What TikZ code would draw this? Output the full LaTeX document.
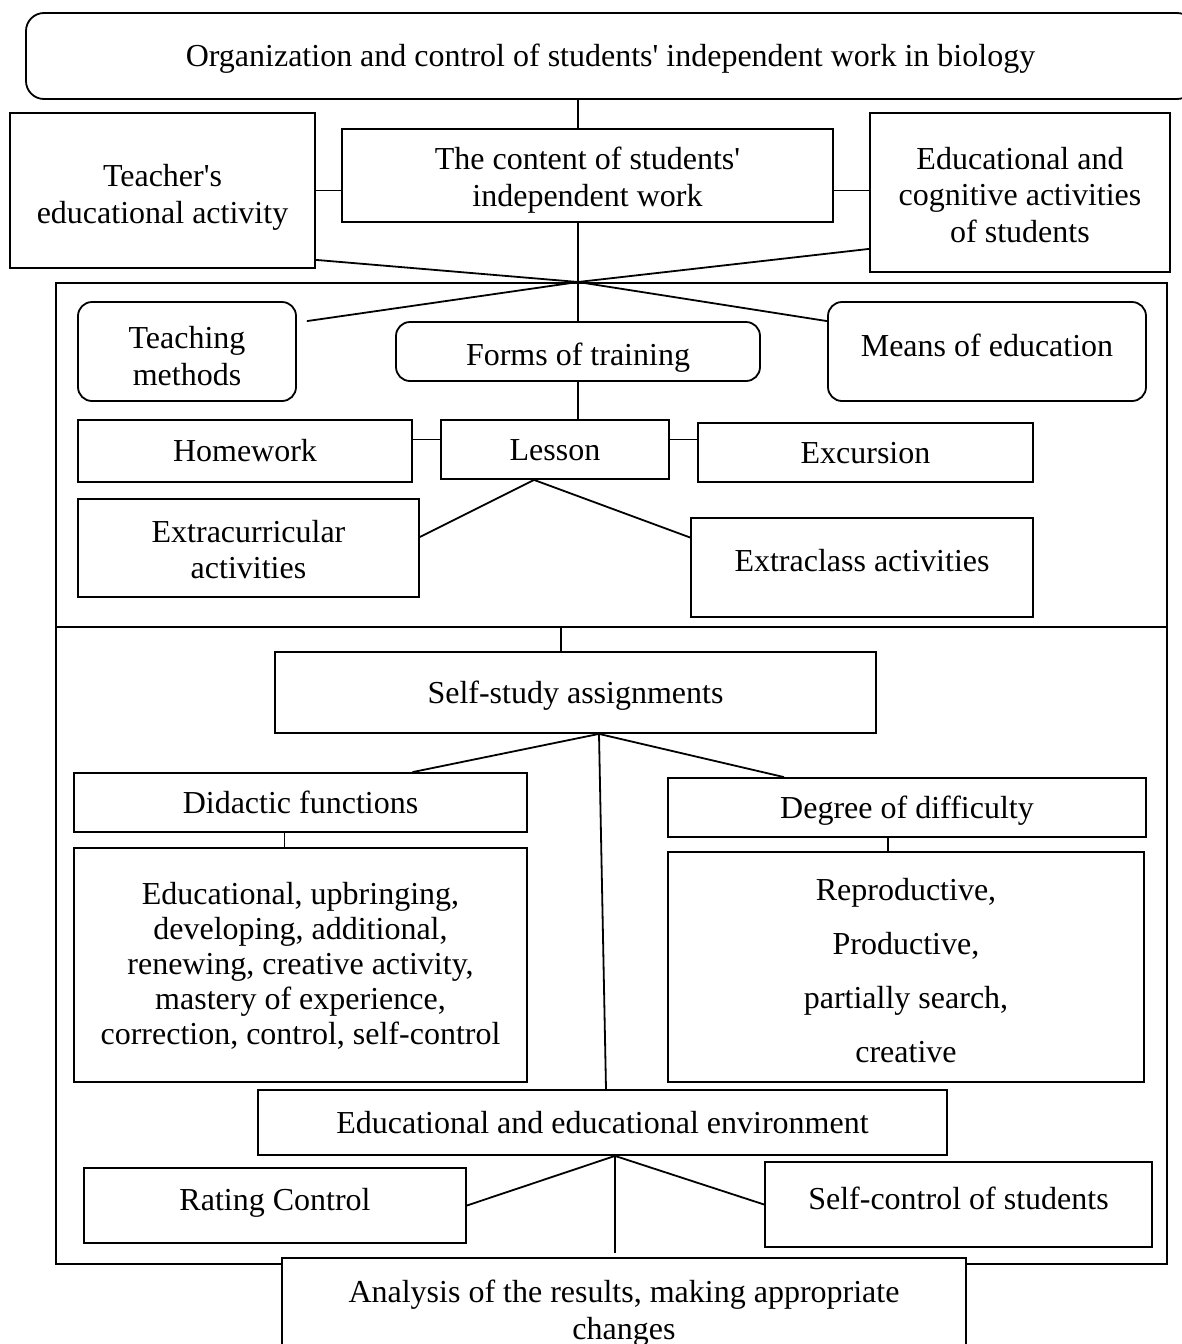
\documentclass[tikz,border=0pt]{standalone}
\usepackage{fontspec}
\setmainfont{Liberation Serif}
\usetikzlibrary{positioning,calc}
\newcommand{\apos}{\textquotesingle}
\newcommand{\wstrut}{\rule[-0.216em]{0pt}{1.107em}}
\newcommand{\lift}[1]{\rule{0pt}{\dimexpr0.683em+#1\relax}}
\tikzset{
  box/.style={draw,line width=0.9pt,rectangle,align=center,inner sep=0pt,
    font=\fontsize{16}{18.4}\selectfont,
    execute at begin node=\wstrut,execute at end node=\wstrut},
  rbox/.style={box,rounded corners=7pt},
  link/.style={line width=0.9pt},
}

\begin{document}
\begin{tikzpicture}[x=0.5pt,y=-0.5pt]
\useasboundingbox (0,0) rectangle (1182,1344);
\clip (0,0) rectangle (1182,1344);
% frame round the middle part
\draw[link] (56,283) rectangle (1167,1264);
\draw[link] (56,627) -- (1167,627);
\coordinate (hub) at (578,282);
\coordinate (div) at (561,627);

% top level
\node[rbox,rounded corners=9pt,minimum width=584.5pt,minimum height=43pt] (title) at (610.5,56)
  {Organization and control of students\apos{} independent work in biology};
\node[box,minimum width=152.5pt,minimum height=77.5pt] (teacher) at (162.5,190.5)
  {\lift{7pt}Teacher\apos s\\educational activity};
\node[box,minimum width=245.5pt,minimum height=46.5pt] (content) at (587.5,175.5)
  {\lift{5pt}The content of students\apos\\independent work};
\node[box,minimum width=150pt,minimum height=79.5pt] (cognitive) at (1020,192.5)
  {\lift{6pt}Educational and\\cognitive activities\\of students};
\draw[link] (title.south -| hub) -- (hub |- content.north);
\draw[link] (teacher.east) -- (teacher.east -| content.west);
\draw[link] (content.east |- teacher.east) -- (teacher.east -| cognitive.west);
\draw[link] (hub |- content.south) -- (hub);
\draw[link] ([yshift=4.5pt]teacher.south east) -- (hub);
\draw[link] ([yshift=12pt]cognitive.south west) -- (hub);

% methods, forms, means
\node[rbox,minimum width=109pt,minimum height=49.5pt] (teaching) at (187,351.5)
  {\lift{8pt}Teaching\\methods};
\node[rbox,minimum width=182pt,minimum height=29.5pt] (forms) at (578,351.5)
  {\raisebox{-3pt}{Forms of training}};
\node[rbox,minimum width=159pt,minimum height=49.5pt] (means) at (987,351.5)
  {\raisebox{2.75pt}{Means of education}};
\draw[link] (hub) -- ([xshift=5pt,yshift=-10pt]teaching.north east);
\draw[link] (hub) -- (hub |- forms.north);
\draw[link] (hub) -- ([yshift=-10pt]means.north west);

\node[box,minimum width=167pt,minimum height=31pt] (homework) at (245,451) {Homework};
\node[box,minimum width=114pt,minimum height=29.5pt] (lesson) at (555,449.5) {Lesson};
\node[box,minimum width=167.5pt,minimum height=29.5pt] (excursion) at (865.5,452.5) {Excursion};
\node[box,minimum width=170.5pt,minimum height=49pt] (extracurr) at (248.5,548)
  {\lift{5pt}Extracurricular\\activities};
\node[box,minimum width=171pt,minimum height=49.5pt] (extraclass) at (862,567.5)
  {\raisebox{3.5pt}{Extraclass activities}};
\draw[link] (forms.south) -- (forms.south |- lesson.north);
\draw[link] ([yshift=5pt]lesson.west) -- ([yshift=5pt]lesson.west -| homework.east);
\draw[link] ([yshift=5pt]lesson.east) -- ([yshift=5pt]lesson.east -| excursion.west);
\draw[link] ([yshift=5.5pt]extracurr.east) -- ([xshift=-10.5pt]lesson.south)
  -- ([yshift=15pt]extraclass.west);

% assignments
\node[box,minimum width=300.5pt,minimum height=40.5pt] (selfstudy) at (575.5,692.5)
  {Self-study assignments};
\coordinate (ss) at ([xshift=11.75pt]selfstudy.south);
\draw[link] (div) -- (div |- selfstudy.north);
\node[box,minimum width=226.5pt,minimum height=29.5pt] (didactic) at (300.5,802.5)
  {Didactic functions};
\node[box,minimum width=239pt,minimum height=29.5pt] (degree) at (907,807.5)
  {Degree of difficulty};
\node[box,minimum width=226.5pt,minimum height=117pt,font=\fontsize{16}{17.5}\selectfont] (funclist) at (300.5,965)
  {\lift{2pt}Educational, upbringing,\\developing, additional,\\renewing, creative activity,\\
   mastery of experience,\\correction, control, self-control};
\node[box,minimum width=238pt,minimum height=115pt] (levels) at (906,967)
  {\lift{7pt}Reproductive,\\[8.5pt]Productive,\\[8.5pt]partially search,\\[8.5pt]creative};
\draw[link] ([xshift=56pt]didactic.north) -- (ss) -- ([xshift=-61.5pt]degree.north);
\draw[link] ([xshift=-8pt]didactic.south) -- ([xshift=-8pt]didactic.south |- funclist.north);
\draw[link] ([xshift=-9.5pt]degree.south) -- ([xshift=-9.5pt]degree.south |- levels.north);

% environment and control
\node[box,minimum width=344.5pt,minimum height=32.5pt] (env) at (602.5,1122.5)
  {Educational and educational environment};
\draw[link] (ss) -- ([xshift=1.75pt]env.north);
\coordinate (es) at ([xshift=6.25pt]env.south);
\coordinate (tail) at ([yshift=-48.5pt]es);
\node[box,minimum width=191pt,minimum height=37.5pt] (rating) at (275,1205.5)
  {\raisebox{3pt}{Rating Control}};
\node[box,minimum width=193.5pt,minimum height=42.5pt] (selfctrl) at (958.5,1204.5)
  {\raisebox{2.75pt}{Self-control of students}};
\draw[link] (rating.east) -- (es) -- (selfctrl.west);
\draw[link] (es) -- (tail);

\node[box,fill=white,anchor=north,minimum width=342pt,minimum height=53pt] (analysis) at (624,1257)
  {\lift{3pt}Analysis of the results, making appropriate\\changes};
\end{tikzpicture}
\end{document}
